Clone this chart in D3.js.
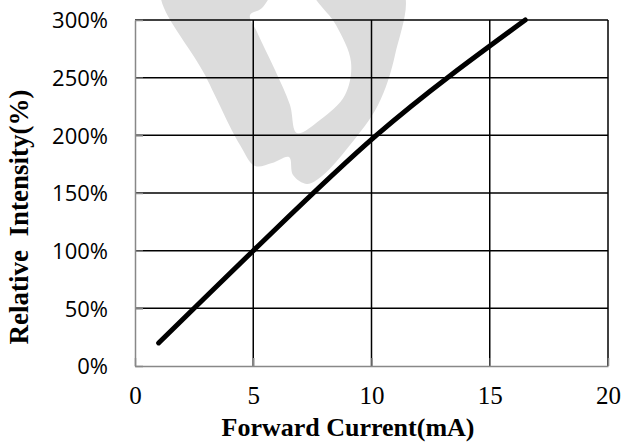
<!DOCTYPE html>
<html>
<head>
<meta charset="utf-8">
<script src="https://cdn.jsdelivr.net/npm/d3@7"></script>
<style>
  body { margin: 0; background: #fff; }
  svg { display: block; }
</style>
</head>
<body>
<div id="chart"></div>
<script>
// data
const currentMA = [1, 2.5, 5, 10.2, 16.5];
const intensityPct = [20, 50, 100, 200, 300];
const xTicks = [0, 5, 10, 15, 20];
const yTicks = [0, 50, 100, 150, 200, 250, 300];

// watermark outline (background decoration, page pixels)
const markX = [162, 205, 240, 255, 272, 289, 293, 307, 322, 350, 378, 395, 402, 313, 336, 351, 345, 320, 297, 290, 275, 257, 250, 262, 270];
const markY = [-10, 75, 145, 166, 163, 157, 175, 184, 176, 145, 105, 55, -10, -10, 25, 62, 95, 120, 133, 105, 70, 32, 15, 8, -10];

const W = 624, H = 443;
const margin = {top: 20, right: 16, bottom: 77, left: 135},
    width = W - margin.left - margin.right,
    height = H - margin.top - margin.bottom;

const root = d3.select("#chart")
    .append("svg")
    .attr("width", W)
    .attr("height", H);

// watermark behind everything
root.append("path")
    .datum(d3.zip(markX, markY))
    .attr("d", d3.line().curve(d3.curveCatmullRomClosed.alpha(0.5)))
    .attr("fill", "#dcdcdc");

const svg = root.append("g")
    .attr("transform", `translate(${margin.left},${margin.top})`);

const x = d3.scaleLinear().domain([0, 20]).range([0, width]);
const y = d3.scaleLinear().domain([0, 300]).range([height, 0]);

// gridlines (black)
svg.append("g")
    .selectAll("line")
    .data(yTicks.filter(d => d > 0))
    .join("line")
    .attr("x1", 0).attr("x2", width)
    .attr("y1", d => y(d)).attr("y2", d => y(d))
    .attr("stroke", "#000").attr("stroke-width", 1.5);

svg.append("g")
    .selectAll("line")
    .data(xTicks.filter(d => d > 0))
    .join("line")
    .attr("x1", d => x(d)).attr("x2", d => x(d))
    .attr("y1", 0).attr("y2", height)
    .attr("stroke", "#000").attr("stroke-width", 1.5);

// axes: gray, ticks inward
const yAxis = svg.append("g")
    .call(d3.axisLeft(y).tickValues(yTicks).tickSizeInner(-8).tickSizeOuter(0).tickFormat(d => d + "%"));
const xAxis = svg.append("g")
    .attr("transform", `translate(0, ${height})`)
    .call(d3.axisBottom(x).tickValues(xTicks).tickSizeInner(-8).tickSizeOuter(0));

[yAxis, xAxis].forEach(a => {
    a.select(".domain").attr("stroke", "#888").attr("stroke-width", 1.5);
    a.selectAll(".tick line").attr("stroke", "#888").attr("stroke-width", 1.5);
});

yAxis.selectAll(".tick text")
    .attr("x", -27)
    .attr("dy", "0.35em")
    .attr("font-family", "'Open Sans', sans-serif")
    .attr("font-size", 22)
    .attr("fill", "#000");

xAxis.selectAll(".tick text")
    .attr("y", 38)
    .attr("dy", 0)
    .attr("font-family", "'Liberation Serif', serif")
    .attr("font-size", 25)
    .attr("fill", "#000");

// the curve
svg.append("path")
    .datum(d3.zip(currentMA, intensityPct))
    .attr("d", d3.line().x(d => x(d[0])).y(d => y(d[1])).curve(d3.curveMonotoneX))
    .attr("fill", "none")
    .attr("stroke", "#000")
    .attr("stroke-width", 5)
    .attr("stroke-linecap", "round")
    .attr("stroke-linejoin", "round");

// axis titles
root.append("text")
    .attr("x", 348)
    .attr("y", 436)
    .attr("text-anchor", "middle")
    .attr("font-family", "'Liberation Serif', serif")
    .attr("font-weight", "bold")
    .attr("font-size", 26)
    .text("Forward Current(mA)");

root.append("text")
    .attr("transform", "translate(28,217) rotate(-90)")
    .attr("text-anchor", "middle")
    .attr("font-family", "'Liberation Serif', serif")
    .attr("font-weight", "bold")
    .attr("font-size", 27)
    .style("white-space", "pre")
    .text("Relative  Intensity(%)");
</script>
</body>
</html>
